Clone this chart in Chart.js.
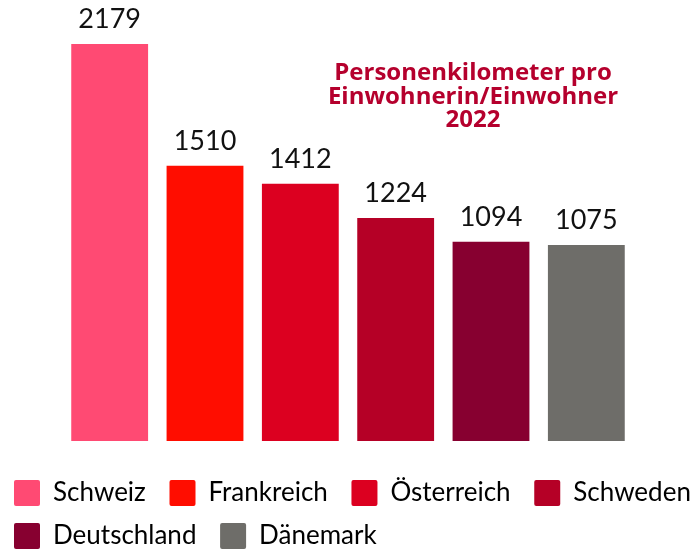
<!DOCTYPE html>
<html>
<head>
<meta charset="utf-8">
<script src="https://cdn.jsdelivr.net/npm/chart.js@4"></script>
<style>
html,body{margin:0;padding:0;background:#fff;}
#wrap{width:700px;height:554px;position:relative;}
</style>
</head>
<body>
<div id="wrap"><canvas id="c" width="700" height="554"></canvas></div>
<script>
const categories = ["Schweiz", "Frankreich", "Österreich", "Schweden", "Deutschland", "Dänemark"];
const values = [2179, 1510, 1412, 1224, 1094, 1075];
const colors = ["#FF4A73", "#FF0D00", "#DC0020", "#B50026", "#870030", "#6E6D69"];
const titleLines = ["Personenkilometer pro", "Einwohnerin/Einwohner", "2022"];

const valueLabels = {
  id: 'valueLabels',
  afterDatasetsDraw(chart) {
    const ctx = chart.ctx;
    const meta = chart.getDatasetMeta(0);
    ctx.save();
    ctx.font = '27px Lato';
    ctx.fillStyle = '#111';
    ctx.textAlign = 'center';
    ctx.textBaseline = 'alphabetic';
    meta.data.forEach((bar, i) => {
      ctx.fillText(String(values[i]), bar.x, bar.y - 16);
    });
    ctx.restore();
  }
};

const innerTitle = {
  id: 'innerTitle',
  afterDraw(chart) {
    const ctx = chart.ctx;
    ctx.save();
    ctx.font = 'bold 24px "Open Sans"';
    ctx.fillStyle = '#B5002D';
    ctx.textAlign = 'center';
    ctx.textBaseline = 'alphabetic';
    const x = 473, y0 = 80, lh = 23.5;
    titleLines.forEach((t, i) => ctx.fillText(t, x, y0 + i * lh));
    ctx.restore();
  }
};

new Chart(document.getElementById('c'), {
  type: 'bar',
  data: {
    labels: categories,
    datasets: [{
      data: values,
      backgroundColor: colors,
      borderWidth: 0,
      categoryPercentage: 1,
      barPercentage: 0.806
    }]
  },
  options: {
    responsive: false,
    animation: false,
    layout: { padding: { top: 0, left: -3, right: -30, bottom: -5 } },
    scales: {
      x: {
        display: true,
        grid: { display: false },
        border: { display: false },
        ticks: { display: false },
        afterFit(s) { s.height = 22; }
      },
      y: {
        display: true,
        min: 0,
        max: 2420,
        grid: { display: false },
        border: { display: false },
        ticks: { display: false },
        afterFit(s) { s.width = 65; }
      },
      y2: {
        display: true,
        position: 'right',
        grid: { display: false },
        border: { display: false },
        ticks: { display: false },
        afterFit(s) { s.width = 96; }
      }
    },
    plugins: {
      tooltip: { enabled: false },
      title: { display: false },
      legend: {
        display: true,
        position: 'bottom',
        align: 'start',
        labels: {
          font: { family: 'Lato', size: 26 },
          color: '#111',
          boxWidth: 26,
          boxHeight: 26,
          padding: 17,
          generateLabels() {
            return categories.map((c, i) => ({
              text: c + ' ',
              fillStyle: colors[i],
              strokeStyle: colors[i],
              lineWidth: 0,
              borderRadius: 2,
              hidden: false,
              index: i
            }));
          }
        }
      }
    }
  },
  plugins: [valueLabels, innerTitle]
});
</script>
</body>
</html>
